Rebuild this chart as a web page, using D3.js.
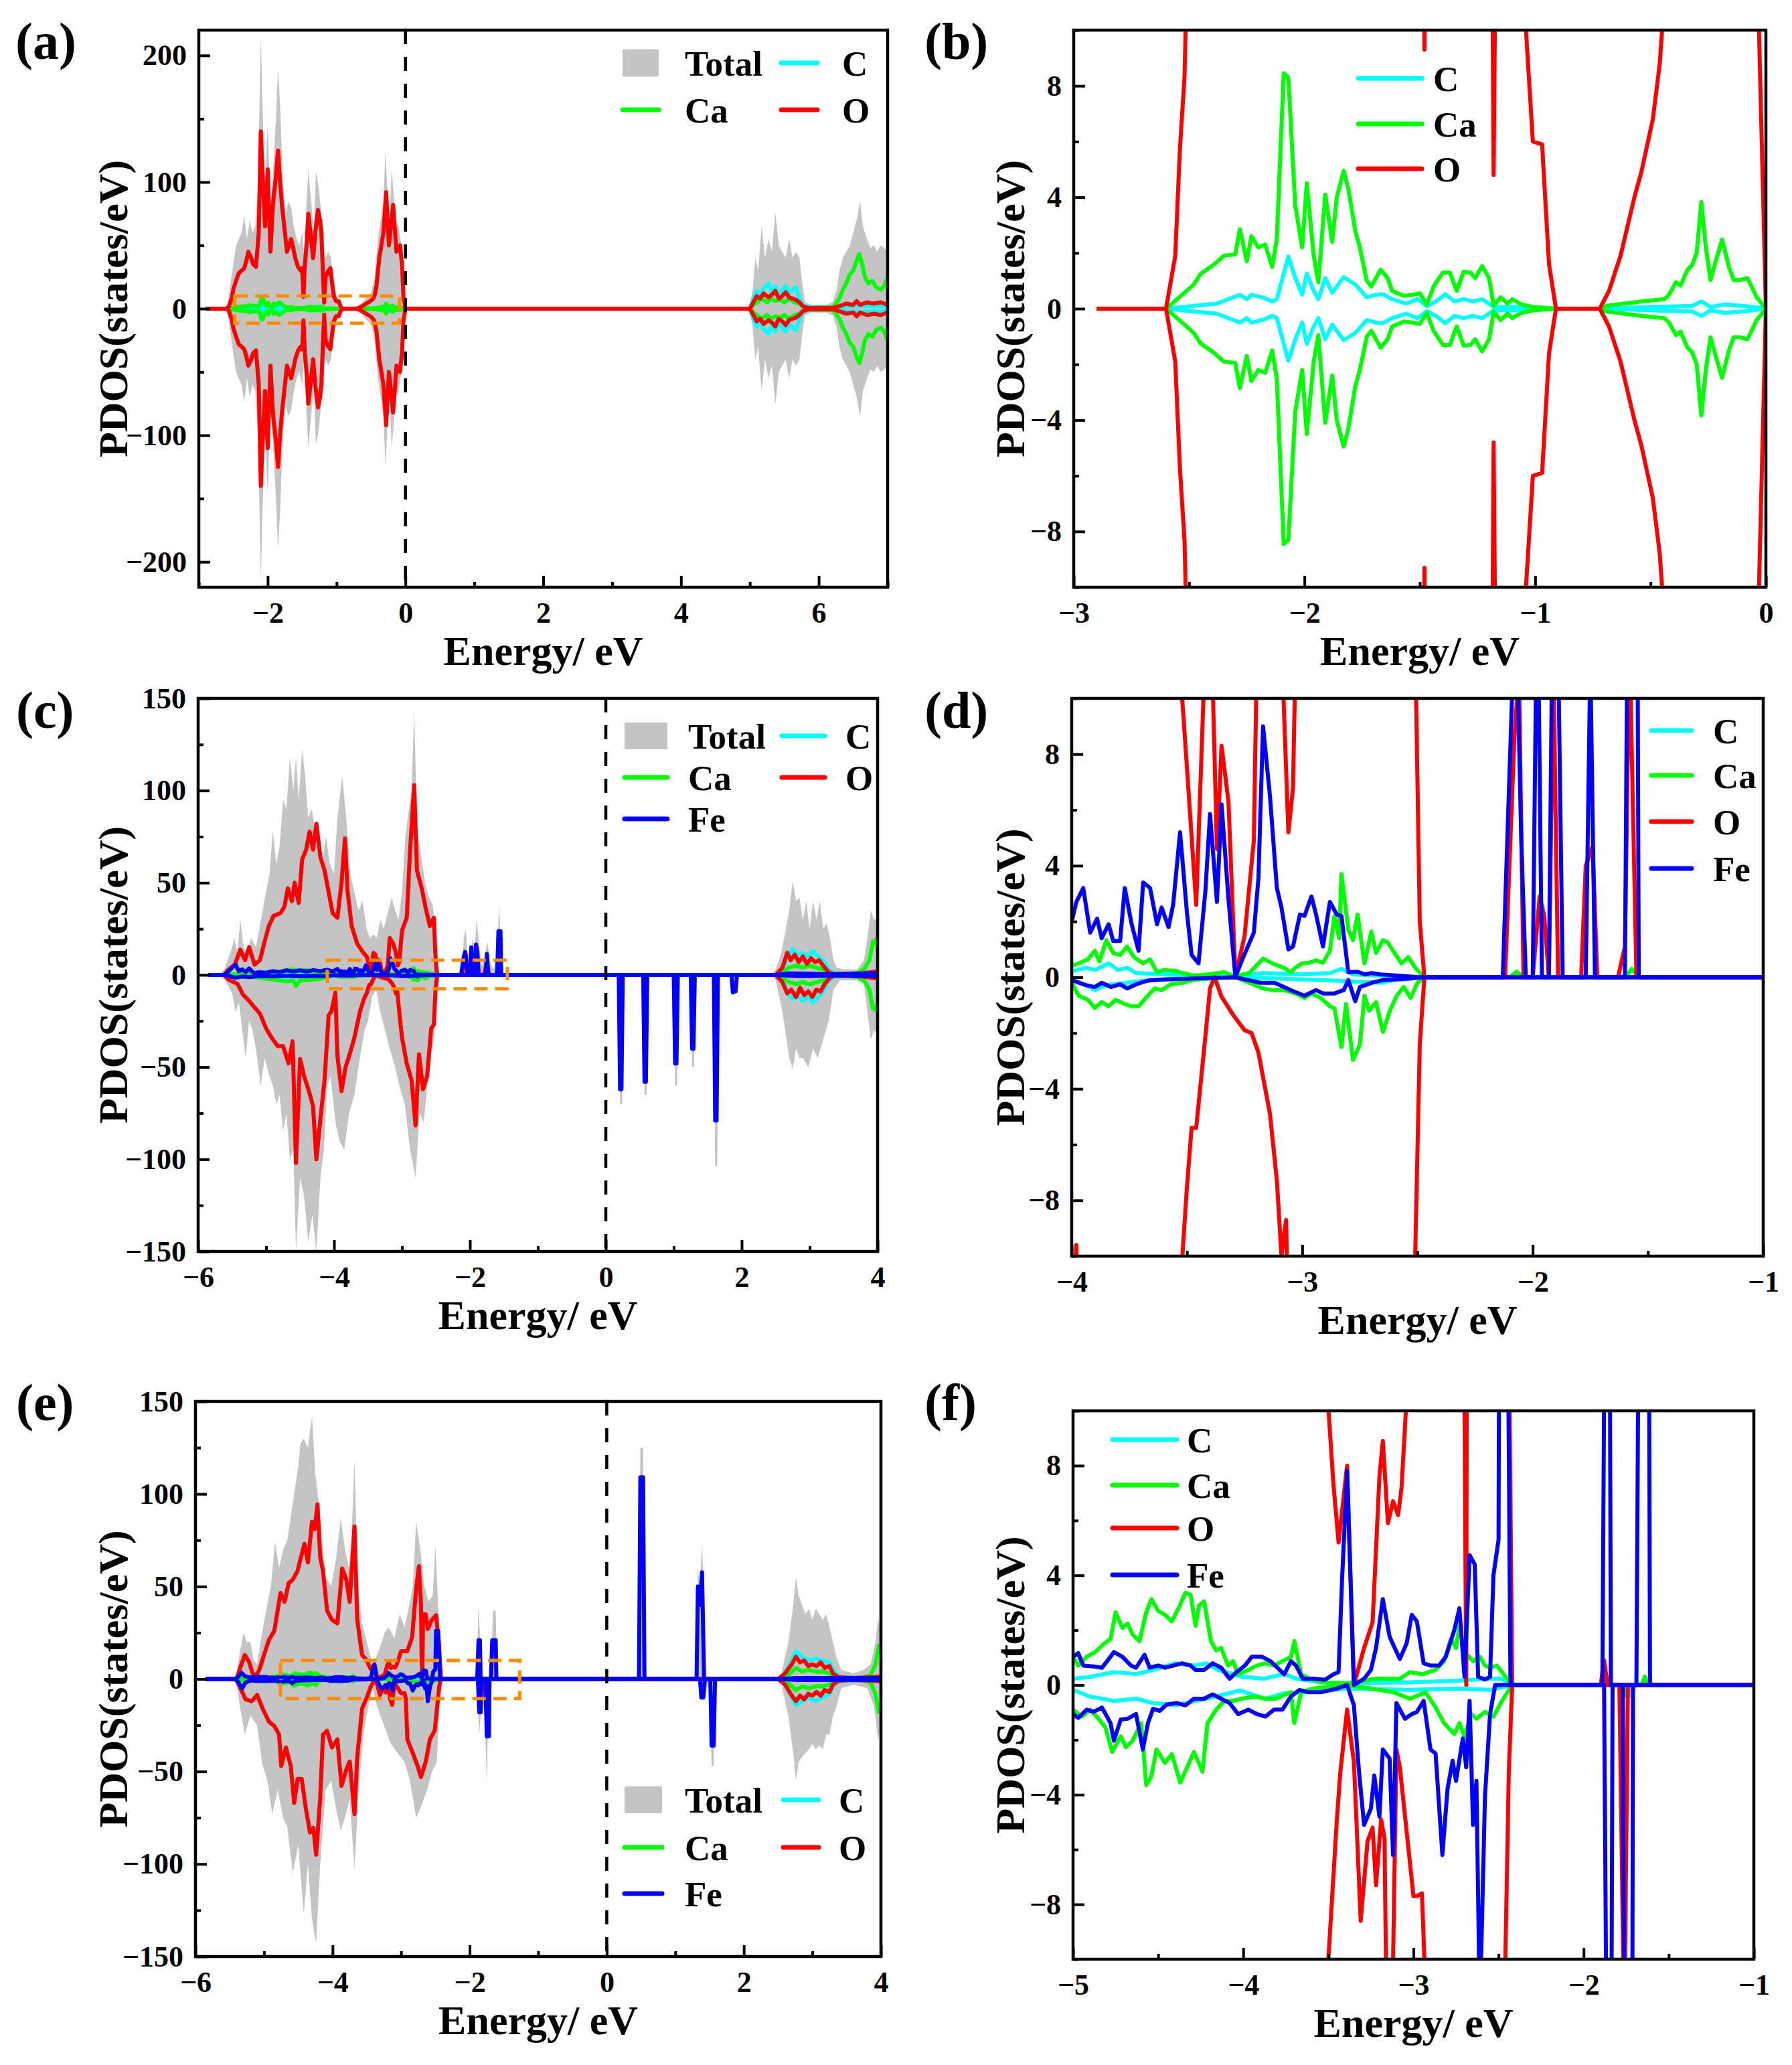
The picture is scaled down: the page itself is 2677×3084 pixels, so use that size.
<!DOCTYPE html>
<html>
<head>
<meta charset="utf-8">
<script src="https://cdn.jsdelivr.net/npm/d3@7"></script>
<style>
  body { margin: 0; background: #fff; }
  text { font-family: "Liberation Serif", "Times New Roman", serif; font-weight: bold; }
</style>
</head>
<body>
<div id="chart"></div>
<script>
// ---------- system 1 : CaCO3 (spin-symmetric, magnitudes) [energy, PDOS] ----------
const s1Total = [[-2.9,0],[-2.62,0],[-2.58,5],[-2.54,20],[-2.5,35],[-2.46,50],[-2.42,55],[-2.38,60],[-2.34,73],[-2.3,55],[-2.26,70],[-2.22,60],[-2.18,65],[-2.14,100],[-2.1,215],[-2.07,150],[-2.04,95],[-2.0,145],[-1.96,80],[-1.92,110],[-1.88,150],[-1.85,190],[-1.82,160],[-1.78,100],[-1.74,75],[-1.7,85],[-1.66,80],[-1.62,65],[-1.58,55],[-1.54,50],[-1.5,60],[-1.47,40],[-1.44,80],[-1.41,110],[-1.37,85],[-1.33,60],[-1.3,108],[-1.27,100],[-1.23,80],[-1.2,50],[-1.16,40],[-1.12,45],[-1.08,40],[-1.04,20],[-1.0,10],[-0.95,3],[-0.92,0],[-0.72,0],[-0.66,3],[-0.58,8],[-0.5,12],[-0.45,25],[-0.4,55],[-0.36,70],[-0.32,85],[-0.29,125],[-0.26,90],[-0.23,70],[-0.2,110],[-0.17,90],[-0.14,70],[-0.1,65],[-0.06,50],[-0.03,20],[0,0],
  [5.0,0],[5.04,15],[5.08,40],[5.12,30],[5.17,65],[5.22,40],[5.27,55],[5.32,45],[5.37,76],[5.42,50],[5.47,45],[5.52,40],[5.57,55],[5.62,40],[5.67,45],[5.72,40],[5.76,20],[5.8,5],[5.9,3],[6.1,3],[6.2,5],[6.26,15],[6.3,30],[6.35,40],[6.4,45],[6.45,50],[6.5,60],[6.55,70],[6.6,85],[6.64,65],[6.7,55],[6.75,48],[6.8,50],[6.85,45],[6.9,50],[6.95,48],[7.0,45]];
const s1O = [[-2.9,0],[-2.6,0],[-2.56,1.9],[-2.54,5.7],[-2.52,8.3],[-2.5,15],[-2.46,22],[-2.42,28],[-2.38,30],[-2.34,32],[-2.31,38],[-2.28,45],[-2.24,40],[-2.21,35],[-2.17,33],[-2.13,60],[-2.1,140],[-2.07,100],[-2.04,65],[-2.0,110],[-1.96,45],[-1.92,85],[-1.88,105],[-1.85,125],[-1.82,100],[-1.79,80],[-1.75,60],[-1.72,45],[-1.69,50],[-1.66,55],[-1.63,48],[-1.6,40],[-1.56,33],[-1.52,30],[-1.5,32],[-1.48,9.3],[-1.46,35],[-1.43,55],[-1.41,75],[-1.38,60],[-1.34,40],[-1.31,60],[-1.27,78],[-1.24,70],[-1.22,60],[-1.2,30],[-1.18,4.8],[-1.16,25],[-1.12,30],[-1.09,32],[-1.06,18],[-1.04,10],[-1.01,6],[-0.97,5.9],[-0.94,1.6],[-0.91,0],[-0.72,0],[-0.68,0.64],[-0.63,1.9],[-0.57,4],[-0.54,4.9],[-0.49,6.8],[-0.46,8.8],[-0.45,10],[-0.42,18],[-0.38,40],[-0.35,50],[-0.32,60],[-0.28,92],[-0.26,70],[-0.24,50],[-0.21,65],[-0.18,82],[-0.15,60],[-0.13,45],[-0.1,48],[-0.08,50],[-0.05,35],[-0.03,10],[0,0],
  [5.0,0],[5.05,5],[5.1,10],[5.15,8],[5.2,12],[5.27,9],[5.32,11],[5.37,14],[5.42,8],[5.47,10],[5.52,13],[5.57,9],[5.62,8],[5.67,7],[5.72,5],[5.77,2],[5.85,0.5],[6.2,0.5],[6.3,2],[6.4,4],[6.5,3],[6.55,6],[6.6,3],[6.7,5],[6.8,4],[6.9,5],[7.0,3]];
const s1Ca = [[-2.9,0],[-2.6,0],[-2.53,0.5],[-2.48,0.87],[-2.45,1.25],[-2.39,1.6],[-2.35,1.9],[-2.3,1.95],[-2.28,2.85],[-2.25,1.7],[-2.23,2.6],[-2.2,2.2],[-2.17,2.3],[-2.14,1.5],[-2.12,2.5],[-2.09,8.45],[-2.07,8.3],[-2.04,3.7],[-2.01,2.2],[-1.99,4.5],[-1.96,1.9],[-1.94,0.95],[-1.91,4.1],[-1.88,2.4],[-1.86,4.0],[-1.83,4.95],[-1.81,4.3],[-1.78,2.8],[-1.76,2.2],[-1.73,1.0],[-1.71,0.8],[-1.67,1.4],[-1.64,1.1],[-1.62,0.64],[-1.57,0.46],[-1.53,0.5],[-1.5,0.55],[-1.47,0.15],[-1.44,0.8],[-1.4,1.3],[-1.37,1.3],[-1.34,0.64],[-1.31,1.33],[-1.28,1.29],[-1.26,1.1],[-1.23,1.53],[-1.2,1.1],[-1.18,0.1],[-1.15,0.41],[-1.12,0.18],[-1.1,0.34],[-1.06,0.15],[-1.01,0.06],[-0.91,0],[-0.72,0],[-0.69,0.1],[-0.54,0.26],[-0.44,0.34],[-0.42,0.5],[-0.39,0.95],[-0.37,0.83],[-0.34,1.4],[-0.32,1.56],[-0.3,2.0],[-0.28,3.83],[-0.26,2.17],[-0.24,1.03],[-0.22,1.64],[-0.19,2.48],[-0.16,1.49],[-0.14,1.03],[-0.11,1.03],[-0.08,1.1],[-0.04,0.41],[0,0],
  [5.0,0],[5.05,3],[5.1,5],[5.17,8],[5.25,5],[5.3,8],[5.37,6],[5.45,7],[5.5,5],[5.57,8],[5.65,5],[5.72,4],[5.78,1],[5.85,0.5],[6.2,1],[6.25,4],[6.3,8],[6.35,15],[6.4,20],[6.45,27],[6.5,30],[6.55,38],[6.59,43],[6.63,35],[6.67,25],[6.72,20],[6.78,22],[6.83,17],[6.9,15],[6.95,18],[7.0,25]];
const s1C = [[-2.9,0],[-2.6,0],[-2.48,0.1],[-2.38,0.18],[-2.28,0.5],[-2.25,0.34],[-2.23,0.5],[-2.18,0.4],[-2.14,0.26],[-2.12,0.34],[-2.07,1.87],[-2.04,1.1],[-2.01,0.5],[-1.99,1.26],[-1.96,0.64],[-1.94,0.34],[-1.91,1.1],[-1.88,0.57],[-1.86,0.8],[-1.83,1.13],[-1.78,0.87],[-1.73,0.41],[-1.69,0.5],[-1.66,0.52],[-1.62,0.34],[-1.56,0.18],[-1.51,0.34],[-1.47,0.09],[-1.43,0.26],[-1.39,0.52],[-1.35,0.26],[-1.31,0.34],[-1.27,0.26],[-1.23,0.34],[-1.18,0.06],[-1.09,0.06],[-0.91,0],[-0.72,0],[-0.32,0.1],[-0.28,0.26],[-0.24,0.06],[-0.18,0.15],[-0.09,0.09],[0,0],
  [5.0,0],[5.05,8],[5.1,14],[5.15,10],[5.2,16],[5.27,20],[5.32,12],[5.37,18],[5.42,10],[5.47,15],[5.52,18],[5.57,12],[5.62,15],[5.67,17],[5.72,8],[5.77,3],[5.85,1],[6.2,1],[6.4,2],[6.6,2.5],[6.8,2],[7.0,2]];

// ---------- system 2 : Fe-doped (c, d) ----------
const s2TotalUp = [[-5.85,0],[-5.68,0],[-5.6,4],[-5.55,10],[-5.5,15],[-5.47,20],[-5.42,12],[-5.38,30],[-5.33,15],[-5.28,12],[-5.22,20],[-5.15,15],[-5.1,25],[-5.05,35],[-5.0,45],[-4.95,55],[-4.9,78],[-4.85,60],[-4.8,70],[-4.75,95],[-4.7,90],[-4.65,118],[-4.6,100],[-4.56,118],[-4.52,95],[-4.47,122],[-4.43,110],[-4.38,85],[-4.33,90],[-4.28,80],[-4.24,70],[-4.18,60],[-4.12,75],[-4.06,60],[-4.0,55],[-3.95,85],[-3.88,108],[-3.82,85],[-3.76,55],[-3.7,45],[-3.64,35],[-3.58,40],[-3.52,25],[-3.47,20],[-3.42,22],[-3.37,20],[-3.32,30],[-3.27,25],[-3.2,35],[-3.15,42],[-3.1,35],[-3.05,30],[-3.0,45],[-2.95,75],[-2.9,90],[-2.86,100],[-2.82,143],[-2.78,80],[-2.74,70],[-2.7,60],[-2.65,48],[-2.6,42],[-2.55,38],[-2.52,30],[-2.48,5],[-2.45,0],[-2.12,0],[-2.09,20],[-2.06,25],[-2.03,5],[-1.99,10],[-1.96,20],[-1.93,15],[-1.9,30],[-1.87,18],[-1.83,5],[-1.78,10],[-1.74,18],[-1.71,8],[-1.66,3],[-1.6,8],[-1.57,40],[-1.54,5],[-1.5,0],
  [2.45,0],[2.5,3],[2.55,8],[2.6,15],[2.65,25],[2.7,35],[2.75,51],[2.8,40],[2.85,42],[2.9,30],[2.95,40],[3.0,25],[3.05,40],[3.1,30],[3.15,40],[3.2,25],[3.25,28],[3.3,20],[3.35,8],[3.4,4],[3.5,3],[3.7,3],[3.8,8],[3.85,20],[3.9,35],[3.95,30],[4.0,30]];
const s2TotalDn = [[-5.85,0],[-5.68,0],[-5.6,-3],[-5.5,-10],[-5.45,-20],[-5.4,-15],[-5.35,-30],[-5.3,-45],[-5.25,-25],[-5.2,-30],[-5.15,-40],[-5.08,-60],[-5.02,-45],[-4.95,-55],[-4.9,-60],[-4.85,-70],[-4.8,-65],[-4.75,-85],[-4.7,-75],[-4.65,-100],[-4.6,-95],[-4.56,-150],[-4.5,-110],[-4.44,-120],[-4.38,-145],[-4.32,-130],[-4.26,-150],[-4.2,-110],[-4.15,-95],[-4.1,-60],[-4.05,-55],[-3.98,-80],[-3.92,-90],[-3.85,-95],[-3.78,-75],[-3.7,-65],[-3.62,-45],[-3.55,-30],[-3.5,-25],[-3.44,-12],[-3.38,-8],[-3.32,-20],[-3.25,-30],[-3.18,-40],[-3.1,-50],[-3.04,-60],[-2.96,-70],[-2.88,-95],[-2.8,-110],[-2.74,-75],[-2.68,-80],[-2.6,-50],[-2.53,-35],[-2.48,-5],[-2.45,0],
  [0.19,0],[0.21,-70],[0.24,-70],[0.26,0],[0.55,0],[0.57,-65],[0.6,-65],[0.62,0],[1.0,0],[1.02,-60],[1.05,-60],[1.07,0],[1.25,0],[1.27,-50],[1.3,-50],[1.32,0],[1.59,0],[1.61,-104],[1.64,-104],[1.66,0],[1.84,0],[1.87,-10],[1.92,-10],[1.95,0],
  [2.45,0],[2.5,-3],[2.6,-20],[2.7,-45],[2.75,-51],[2.8,-40],[2.85,-45],[2.9,-45],[2.98,-50],[3.05,-40],[3.12,-45],[3.2,-35],[3.28,-25],[3.35,-8],[3.45,-3],[3.7,-3],[3.8,-5],[3.85,-20],[3.9,-35],[3.95,-30],[4.0,-32]];
const s2OUp = [[-5.85,0],[-5.62,0],[-5.55,3],[-5.46,5.6],[-5.38,13.7],[-5.31,8],[-5.25,15],[-5.17,5.6],[-5.09,8],[-5.03,17],[-4.96,26.5],[-4.89,32],[-4.79,33.5],[-4.73,37],[-4.68,47],[-4.62,40],[-4.58,50],[-4.52,39],[-4.47,62.5],[-4.41,68],[-4.36,77.7],[-4.31,68],[-4.26,82],[-4.2,63.7],[-4.14,56.7],[-4.08,45],[-4.02,33.5],[-3.95,31],[-3.89,50],[-3.84,74],[-3.8,45],[-3.74,26.5],[-3.66,17],[-3.58,12.6],[-3.52,9.9],[-3.5,7.5],[-3.46,2.6],[-3.42,12],[-3.39,11],[-3.37,4.6],[-3.35,8.3],[-3.32,6.3],[-3.29,0],[-3.25,1.5],[-3.21,4.9],[-3.18,20],[-3.13,17],[-3.09,12],[-3.06,5.2],[-3.04,6.8],[-3.0,24],[-2.93,31],[-2.88,68],[-2.82,103],[-2.78,56.7],[-2.71,47],[-2.65,36],[-2.59,26.5],[-2.53,31],[-2.51,12],[-2.49,2],[-2.47,0],
  [-2.12,0],[-2.08,8.5],[-2.06,11],[-2.04,0],[-2.0,0],[-1.97,2.9],[-1.95,2.2],[-1.93,0],[-1.91,11],[-1.89,0],[-1.79,0],[-1.77,4.0],[-1.74,4.7],[-1.72,0],[-1.63,0],[-1.6,1.1],[-1.58,12],[-1.55,0],
  [2.5,0],[2.6,4],[2.67,12],[2.72,8],[2.78,11],[2.84,7],[2.9,10],[2.96,6],[3.02,9],[3.08,7],[3.14,8],[3.2,5],[3.28,1.5],[3.35,0.5],[3.6,0.5],[3.8,1],[3.9,1.5],[4.0,2]];
const s2ODn = [[-5.85,0],[-5.62,0],[-5.55,-2.6],[-5.42,-4.9],[-5.34,-10.7],[-5.25,-14],[-5.17,-17.7],[-5.09,-21],[-5.0,-29],[-4.92,-34],[-4.83,-38.6],[-4.75,-38.6],[-4.67,-48],[-4.61,-36],[-4.56,-102],[-4.5,-45.6],[-4.44,-55],[-4.37,-63],[-4.31,-71],[-4.26,-100],[-4.2,-78],[-4.14,-57],[-4.08,-22],[-4.04,-20],[-3.98,-9.6],[-3.95,-44],[-3.89,-63],[-3.83,-50],[-3.77,-43],[-3.7,-34],[-3.62,-20],[-3.56,-13],[-3.52,-10],[-3.5,-7.5],[-3.48,-5.4],[-3.46,-5.4],[-3.42,-2.1],[-3.4,-0.4],[-3.38,0],[-3.35,-0.7],[-3.3,-1.35],[-3.25,-1.9],[-3.22,-2.0],[-3.19,-2.7],[-3.14,-4.9],[-3.11,-7.3],[-3.09,-10],[-3.07,-8.7],[-3.04,-20],[-3.0,-34],[-2.93,-48],[-2.86,-57],[-2.8,-81.6],[-2.75,-43],[-2.69,-62],[-2.63,-55],[-2.57,-29],[-2.53,-27],[-2.51,-10],[-2.49,-2.4],[-2.47,0],
  [2.5,0],[2.6,-4],[2.67,-10],[2.73,-8],[2.8,-12],[2.86,-7],[2.92,-11],[2.98,-9],[3.04,-12],[3.1,-8],[3.16,-9],[3.22,-5],[3.3,-1.5],[3.36,-0.5],[3.6,-0.5],[3.8,-1],[3.9,-1.5],[4.0,-2]];
const s2CaUp = [[-5.85,0],[-5.62,0],[-5.5,0.3],[-5.3,0.6],[-5.1,0.8],[-4.95,1.2],[-4.8,1.8],[-4.7,2.5],[-4.6,3],[-4.5,2.2],[-4.4,2.8],[-4.3,1.8],[-4.2,1.5],[-4.1,0.8],[-4.0,0.41],[-3.97,0.5],[-3.93,0.64],[-3.9,0.95],[-3.88,0.57],[-3.85,1.33],[-3.82,0.87],[-3.79,0.8],[-3.76,1.1],[-3.73,0.72],[-3.69,0.5],[-3.66,0.64],[-3.63,0.18],[-3.6,0.26],[-3.55,0.23],[-3.52,0.15],[-3.47,0.06],[-3.41,0.1],[-3.34,0.18],[-3.29,0.03],[-3.23,0.15],[-3.17,0.67],[-3.13,0.5],[-3.08,0.34],[-3.05,0.18],[-3.03,0.34],[-3.0,0.5],[-2.97,0.52],[-2.94,0.61],[-2.91,0.52],[-2.88,0.95],[-2.86,2.2],[-2.84,1.4],[-2.83,3.7],[-2.8,1.7],[-2.78,1.33],[-2.76,2.25],[-2.73,0.5],[-2.7,1.64],[-2.68,0.87],[-2.65,1.33],[-2.63,1.26],[-2.6,0.87],[-2.57,0.5],[-2.54,0.72],[-2.51,0.34],[-2.47,0],[-2.1,0],[-2.07,0.2],[-2.04,0],[-1.6,0],[-1.57,0.3],[-1.54,0],
  [2.5,0],[2.6,1.5],[2.7,4],[2.8,5],[2.9,4],[3.0,5],[3.1,4],[3.2,3],[3.3,1],[3.4,0.5],[3.7,1],[3.8,3],[3.88,8],[3.93,18],[3.97,19],[4.0,15]];
const s2CaDn = [[-5.85,0],[-5.62,0],[-5.5,-0.5],[-5.3,-1],[-5.1,-1.5],[-4.95,-2.2],[-4.8,-3],[-4.7,-3.5],[-4.6,-3],[-4.56,-6],[-4.5,-3],[-4.4,-2.8],[-4.3,-2.5],[-4.2,-2],[-4.1,-1],[-4.0,-0.2],[-3.97,-0.66],[-3.93,-0.81],[-3.9,-1.1],[-3.87,-0.89],[-3.84,-1.04],[-3.81,-0.81],[-3.77,-0.96],[-3.74,-1.04],[-3.71,-1.04],[-3.67,-0.66],[-3.64,-0.4],[-3.61,-0.46],[-3.57,-0.25],[-3.52,-0.2],[-3.47,-0.09],[-3.37,-0.03],[-3.29,0],[-3.23,-0.2],[-3.17,-0.4],[-3.13,-0.46],[-3.08,-0.46],[-3.03,-0.58],[-2.99,-0.74],[-2.96,-0.58],[-2.92,-0.74],[-2.88,-1.04],[-2.86,-1.12],[-2.83,-2.5],[-2.81,-0.96],[-2.78,-2.96],[-2.75,-2.42],[-2.73,-0.66],[-2.71,-1.2],[-2.68,-0.89],[-2.65,-1.96],[-2.62,-1.2],[-2.59,-0.66],[-2.56,-0.35],[-2.53,-0.74],[-2.5,-0.2],[-2.47,0],
  [2.5,0],[2.6,-1.5],[2.7,-4],[2.8,-5],[2.9,-4],[3.0,-5],[3.1,-4],[3.2,-3],[3.3,-1],[3.4,-0.5],[3.7,-1],[3.8,-3],[3.88,-8],[3.93,-18],[3.97,-19],[4.0,-15]];
const s2CUp = [[-5.85,0],[-5.62,0],[-5.5,0.2],[-5.2,0.4],[-4.9,0.6],[-4.6,0.9],[-4.3,0.6],[-4.1,0.4],[-4.0,0.21],[-3.94,0.34],[-3.9,0.26],[-3.84,0.5],[-3.8,0.26],[-3.76,0.34],[-3.72,0.15],[-3.6,0.1],[-3.47,0.06],[-3.29,0],[-3.18,0.15],[-3.0,0.1],[-2.88,0.15],[-2.83,0.3],[-2.78,0.1],[-2.66,0.06],[-2.47,0],
  [2.5,0],[2.6,3],[2.68,10],[2.75,14],[2.82,11],[2.9,12],[2.98,10],[3.05,13],[3.12,10],[3.2,8],[3.28,3],[3.35,1],[3.6,0.5],[4.0,1]];
const s2CDn = [[-5.85,0],[-5.62,0],[-5.5,-0.3],[-5.2,-0.5],[-4.9,-0.7],[-4.6,-1],[-4.3,-0.7],[-4.1,-0.4],[-4.0,-0.1],[-3.94,-0.28],[-3.9,-0.46],[-3.85,-0.28],[-3.76,-0.2],[-3.67,-0.1],[-3.29,0],[-3.1,-0.05],[-2.86,-0.12],[-2.78,-0.15],[-2.66,-0.2],[-2.6,-0.1],[-2.47,0],
  [2.5,0],[2.6,-3],[2.68,-10],[2.75,-13],[2.82,-11],[2.9,-14],[2.98,-12],[3.05,-15],[3.12,-12],[3.2,-9],[3.28,-3],[3.35,-1],[3.6,-0.5],[4.0,-1]];
const s2FeUp = [[-5.85,0],[-5.62,0],[-5.55,2],[-5.5,4],[-5.45,5.5],[-5.4,2],[-5.35,3],[-5.3,1.5],[-5.25,3.5],[-5.18,1],[-5.1,1.5],[-5.0,1.2],[-4.9,2],[-4.8,1.5],[-4.7,2.5],[-4.6,1.8],[-4.5,2.5],[-4.4,1.8],[-4.3,2.6],[-4.2,2],[-4.1,2.8],[-4.05,2.2],[-4.0,2.0],[-3.98,2.7],[-3.95,3.2],[-3.92,1.6],[-3.89,2.1],[-3.87,1.4],[-3.84,1.9],[-3.82,1.3],[-3.79,1.3],[-3.77,3.2],[-3.74,1.9],[-3.71,0.95],[-3.69,3.4],[-3.66,3.2],[-3.63,1.9],[-3.61,2.5],[-3.58,1.8],[-3.56,2.6],[-3.53,5.2],[-3.5,2.3],[-3.48,0.8],[-3.45,0.5],[-3.42,3.1],[-3.4,5.85],[-3.37,2.7],[-3.35,6.2],[-3.32,2.8],[-3.29,0],[-3.26,0.64],[-3.21,1.6],[-3.19,3.55],[-3.17,9.0],[-3.14,6.5],[-3.11,3.2],[-3.09,2.5],[-3.06,1.0],[-3.04,1.1],[-3.01,2.25],[-2.99,2.2],[-2.96,2.9],[-2.94,2.25],[-2.91,1.1],[-2.88,2.7],[-2.85,2.25],[-2.83,2.2],[-2.8,0.18],[-2.76,0.2],[-2.73,0.1],[-2.7,0.15],[-2.66,0.1],[-2.59,0.06],[-2.49,0],
  [-2.13,0],[-2.09,10],[-2.07,12.5],[-2.05,5],[-2.03,0],[-2.0,0],[-1.98,15],[-1.96,0],[-1.93,0],[-1.91,16.5],[-1.89,12],[-1.87,0],[-1.77,0],[-1.75,11.4],[-1.73,0],[-1.6,0],[-1.58,23.7],[-1.55,23.7],[-1.54,0],
  [2.5,0],[2.7,0.8],[3.0,0.6],[3.3,0.3],[3.6,0.5],[4.0,1]];
const s2FeDn = [[-5.85,0],[-5.62,0],[-5.55,-0.5],[-5.45,-1.5],[-5.35,-0.8],[-5.25,-1.2],[-5.1,-0.6],[-4.9,-0.8],[-4.7,-0.5],[-4.5,-0.7],[-4.3,-0.5],[-4.1,-0.6],[-4.0,-0.1],[-3.94,-0.28],[-3.9,-0.35],[-3.87,-0.2],[-3.83,-0.35],[-3.79,-0.25],[-3.76,-0.4],[-3.72,-0.25],[-3.67,-0.12],[-3.6,-0.08],[-3.29,0],[-3.18,-0.2],[-3.12,-0.2],[-3.08,-0.35],[-3.04,-0.5],[-2.99,-0.66],[-2.94,-0.46],[-2.91,-0.58],[-2.86,-0.58],[-2.82,-0.46],[-2.8,-0.1],[-2.77,-0.86],[-2.75,-0.35],[-2.7,-0.2],[-2.65,-0.1],[-2.54,-0.05],[-2.48,0],
  [0.19,0],[0.21,-62],[0.23,-62],[0.25,0],[0.55,0],[0.57,-58],[0.59,-58],[0.61,0],[1.0,0],[1.02,-48],[1.04,-48],[1.06,0],[1.25,0],[1.27,-40],[1.29,-40],[1.31,0],[1.59,0],[1.61,-79],[1.63,-79],[1.65,0],[1.85,0],[1.87,-9.5],[1.89,-5],[1.91,-9],[1.93,0],
  [2.5,0],[2.8,-0.6],[3.1,-0.5],[3.4,-0.3],[4.0,-0.8]];

// ---------- system 3 : Fe-doped (e, f) ----------
const s3TotalUp = [[-5.85,0],[-5.45,0],[-5.4,3],[-5.35,15],[-5.3,25],[-5.25,20],[-5.2,20],[-5.15,10],[-5.1,8],[-5.05,20],[-4.98,35],[-4.9,50],[-4.84,74],[-4.78,60],[-4.72,70],[-4.66,75],[-4.62,85],[-4.56,100],[-4.5,115],[-4.47,127],[-4.42,130],[-4.36,125],[-4.3,142],[-4.25,110],[-4.2,95],[-4.15,75],[-4.1,55],[-4.02,50],[-3.95,65],[-3.88,87],[-3.82,70],[-3.76,60],[-3.72,80],[-3.68,117],[-3.63,50],[-3.57,30],[-3.5,20],[-3.42,8],[-3.36,12],[-3.3,18],[-3.24,25],[-3.18,28],[-3.1,22],[-3.02,35],[-2.95,28],[-2.88,40],[-2.83,50],[-2.78,85],[-2.72,70],[-2.66,50],[-2.6,42],[-2.54,45],[-2.5,72],[-2.46,40],[-2.42,0],
  [-1.9,0],[-1.87,40],[-1.84,15],[-1.81,0],[-1.69,0],[-1.66,37],[-1.62,37],[-1.6,0],[0.47,0],[0.49,125],[0.53,125],[0.55,0],[1.31,0],[1.33,60],[1.36,50],[1.39,74],[1.42,40],[1.44,0],
  [2.5,0],[2.55,3],[2.65,20],[2.72,40],[2.76,55],[2.8,45],[2.85,40],[2.9,35],[2.95,38],[3.0,32],[3.05,38],[3.1,35],[3.15,32],[3.2,35],[3.25,28],[3.3,20],[3.35,12],[3.42,5],[3.6,3],[3.75,5],[3.85,8],[3.92,20],[3.96,33],[4.0,25]];
const s3TotalDn = [[-5.85,0],[-5.45,0],[-5.4,-3],[-5.35,-15],[-5.28,-30],[-5.2,-20],[-5.1,-25],[-5.03,-45],[-4.95,-55],[-4.88,-73],[-4.8,-60],[-4.72,-75],[-4.66,-80],[-4.58,-105],[-4.5,-90],[-4.42,-127],[-4.36,-100],[-4.3,-130],[-4.24,-143],[-4.18,-100],[-4.1,-60],[-4.02,-55],[-3.95,-70],[-3.88,-82],[-3.82,-75],[-3.75,-65],[-3.68,-103],[-3.62,-60],[-3.55,-30],[-3.48,-15],[-3.42,-5],[-3.35,-15],[-3.25,-25],[-3.15,-35],[-3.05,-40],[-2.95,-45],[-2.87,-55],[-2.78,-75],[-2.72,-70],[-2.62,-60],[-2.55,-50],[-2.48,-45],[-2.42,0],
  [-1.9,0],[-1.86,-30],[-1.82,-10],[-1.78,-20],[-1.75,-57],[-1.72,0],[1.36,0],[1.38,-10],[1.41,-10],[1.5,0],[1.53,-47],[1.56,-47],[1.58,0],
  [2.5,0],[2.55,-3],[2.65,-20],[2.72,-40],[2.76,-55],[2.8,-45],[2.85,-42],[2.9,-40],[2.95,-38],[3.0,-35],[3.05,-38],[3.1,-36],[3.15,-38],[3.2,-30],[3.25,-30],[3.3,-20],[3.35,-15],[3.42,-5],[3.6,-3],[3.8,-5],[3.9,-15],[3.96,-33],[4.0,-25]];
const s3OUp = [[-5.85,0],[-5.42,0],[-5.39,1],[-5.35,5.8],[-5.28,13],[-5.22,9.4],[-5.17,3.4],[-5.12,1],[-5.06,5.8],[-5.0,13],[-4.93,21],[-4.85,26],[-4.76,46.5],[-4.7,41.7],[-4.64,51.8],[-4.58,53.7],[-4.51,58.5],[-4.47,64.5],[-4.41,73],[-4.36,63],[-4.3,85],[-4.26,81],[-4.22,94.4],[-4.18,65.7],[-4.14,58.5],[-4.08,37],[-4.01,32],[-3.93,30],[-3.86,59.7],[-3.8,53.7],[-3.75,41.7],[-3.68,82.4],[-3.64,32],[-3.57,13],[-3.5,10.1],[-3.47,7.3],[-3.44,5.2],[-3.39,8],[-3.35,0],[-3.29,1.35],[-3.24,2.3],[-3.2,7.6],[-3.18,8.9],[-3.15,5.9],[-3.12,6.7],[-3.09,6.2],[-3.07,7.2],[-3.04,10.5],[-3.0,15],[-2.91,15],[-2.84,22.5],[-2.78,49],[-2.74,61],[-2.71,40],[-2.7,10],[-2.69,0],[-2.68,35],[-2.64,35],[-2.61,27],[-2.55,32],[-2.49,34.5],[-2.45,20],[-2.42,0],
  [-1.9,0],[-1.88,0.9],[-1.86,0],
  [2.5,0],[2.6,3],[2.7,8],[2.76,12],[2.82,9],[2.88,10],[2.94,7],[3.0,8],[3.06,7],[3.12,9],[3.18,6],[3.25,7],[3.3,3],[3.38,1],[3.6,0.5],[3.9,1],[4.0,1.5]];
const s3ODn = [[-5.85,0],[-5.42,0],[-5.39,-1.4],[-5.33,-6],[-5.27,-11],[-5.18,-12],[-5.1,-8.6],[-5.02,-16],[-4.93,-23],[-4.85,-25.4],[-4.78,-30],[-4.75,-47],[-4.68,-37],[-4.61,-47],[-4.56,-67],[-4.51,-54],[-4.45,-54],[-4.39,-70],[-4.33,-83],[-4.28,-80.5],[-4.24,-95],[-4.18,-64],[-4.14,-30],[-4.08,-28],[-4.01,-37],[-3.93,-32.6],[-3.87,-57.8],[-3.8,-49],[-3.75,-44.6],[-3.68,-73],[-3.64,-42],[-3.57,-16],[-3.5,-10],[-3.45,-4.9],[-3.43,-3.2],[-3.39,-0.9],[-3.35,-2.8],[-3.31,-8.6],[-3.27,-5.7],[-3.24,-5.2],[-3.22,-7.3],[-3.19,-4.9],[-3.17,-5.6],[-3.16,-11],[-3.13,-14],[-3.1,-2.35],[-3.08,-3],[-3.0,-7.7],[-2.98,-7.7],[-2.95,-7.6],[-2.93,-11],[-2.91,-32.6],[-2.83,-40],[-2.76,-47],[-2.71,-53],[-2.64,-44.6],[-2.58,-32.6],[-2.51,-27.8],[-2.46,-10],[-2.44,-3.2],[-2.42,0],
  [-1.79,0],[-1.77,-9],[-1.76,-12],[-1.74,0],
  [2.5,0],[2.6,-3],[2.7,-9],[2.76,-12],[2.82,-9],[2.88,-11],[2.94,-8],[3.0,-9],[3.06,-7],[3.12,-9],[3.18,-6],[3.25,-7],[3.3,-3],[3.38,-1],[3.6,-0.5],[3.9,-1],[4.0,-1.5]];
const s3CaUp = [[-5.85,0],[-5.42,0],[-5.35,0.5],[-5.25,1],[-5.15,0.6],[-5.05,1],[-5.0,1.03],[-4.97,0.71],[-4.92,1.03],[-4.87,1.2],[-4.82,1.5],[-4.78,1.68],[-4.75,2.65],[-4.71,2.08],[-4.68,2.24],[-4.65,1.84],[-4.61,1.6],[-4.57,2.65],[-4.54,3.13],[-4.5,2.7],[-4.46,2.56],[-4.42,2.32],[-4.38,2.8],[-4.34,3.37],[-4.31,3.29],[-4.28,2.16],[-4.26,2.9],[-4.23,3.05],[-4.19,1.6],[-4.16,1.27],[-4.13,1.35],[-4.09,0.71],[-4.06,0.87],[-4.03,0.39],[-3.97,0.55],[-3.92,0.71],[-3.87,0.79],[-3.82,0.71],[-3.77,0.87],[-3.72,1.03],[-3.7,1.6],[-3.66,0.39],[-3.61,0.23],[-3.54,0.1],[-3.39,0.06],[-3.22,0.23],[-3.15,0.23],[-3.08,0.23],[-3.02,0.47],[-2.95,0.39],[-2.87,0.55],[-2.82,0.87],[-2.78,1.68],[-2.75,1.35],[-2.73,2.16],[-2.7,1.2],[-2.65,0.87],[-2.61,1.03],[-2.58,0.71],[-2.55,0.63],[-2.51,0.71],[-2.48,0.47],[-2.43,0.06],[-2.42,0],
  [-1.88,0],[-1.86,0.3],[-1.84,0],[-1.66,0],[-1.64,0.3],[-1.62,0],
  [2.5,0],[2.6,1],[2.7,4],[2.76,6],[2.85,4],[2.95,5],[3.05,4],[3.15,4],[3.25,3],[3.32,1],[3.4,0.5],[3.7,0.5],[3.85,2],[3.92,8],[3.97,18],[4.0,15]];
const s3CaDn = [[-5.85,0],[-5.42,0],[-5.35,-0.5],[-5.25,-1],[-5.15,-0.8],[-5.05,-1],[-5.0,-0.9],[-4.95,-1.15],[-4.9,-0.9],[-4.85,-1.23],[-4.81,-1.55],[-4.77,-2.44],[-4.72,-1.87],[-4.69,-2.27],[-4.65,-2.03],[-4.6,-1.39],[-4.57,-3.65],[-4.54,-3.32],[-4.51,-2.35],[-4.46,-2.84],[-4.42,-2.52],[-4.37,-3.56],[-4.33,-3.0],[-4.29,-2.44],[-4.24,-3.16],[-4.21,-1.39],[-4.16,-0.9],[-4.11,-0.58],[-4.06,-0.58],[-4.01,-0.5],[-3.94,-0.42],[-3.87,-0.5],[-3.81,-0.5],[-3.72,-0.26],[-3.7,-1.39],[-3.66,-0.26],[-3.59,-0.13],[-3.39,0],[-3.25,-0.13],[-3.12,-0.26],[-3.02,-0.5],[-2.93,-0.26],[-2.87,-0.82],[-2.82,-1.39],[-2.76,-1.79],[-2.73,-1.39],[-2.7,-1.87],[-2.66,-1.06],[-2.63,-1.23],[-2.58,-0.98],[-2.53,-1.15],[-2.48,-0.58],[-2.42,0],
  [-1.78,0],[-1.76,-0.4],[-1.74,0],
  [2.5,0],[2.6,-1],[2.7,-4],[2.76,-6],[2.85,-4],[2.95,-5],[3.05,-4],[3.15,-4],[3.25,-3],[3.32,-1],[3.4,-0.5],[3.7,-0.5],[3.85,-2],[3.92,-8],[3.97,-18],[4.0,-15]];
const s3CUp = [[-5.85,0],[-5.42,0],[-5.3,0.2],[-5.1,0.2],[-5.0,0.23],[-4.9,0.3],[-4.76,0.47],[-4.63,0.4],[-4.53,0.55],[-4.4,0.79],[-4.29,0.71],[-4.22,0.79],[-4.15,0.55],[-4.01,0.3],[-3.88,0.23],[-3.76,0.4],[-3.69,0.23],[-3.55,0.1],[-3.35,0.06],[-3.02,0.1],[-2.75,0.15],[-2.55,0.23],[-2.48,0.23],[-2.42,0],
  [-1.66,0],[-1.64,0.3],[-1.62,0],
  [2.5,0],[2.6,3],[2.7,10],[2.76,15],[2.85,12],[2.95,10],[3.05,11],[3.15,10],[3.25,9],[3.32,4],[3.4,1],[3.7,0.5],[4.0,1]];
const s3CDn = [[-5.85,0],[-5.42,0],[-5.3,-0.3],[-5.1,-0.3],[-5.0,-0.18],[-4.9,-0.42],[-4.76,-0.58],[-4.63,-0.5],[-4.53,-0.66],[-4.4,-0.74],[-4.29,-0.6],[-4.15,-0.4],[-4.02,-0.2],[-3.87,-0.5],[-3.76,-0.3],[-3.62,-0.26],[-3.39,-0.13],[-3.02,-0.18],[-2.75,-0.13],[-2.55,-0.18],[-2.42,0],
  [-1.74,0],[-1.72,-0.4],[-1.7,0],
  [2.5,0],[2.6,-3],[2.7,-10],[2.76,-14],[2.85,-12],[2.95,-10],[3.05,-12],[3.15,-10],[3.25,-8],[3.32,-3],[3.4,-1],[3.7,-0.5],[4.0,-1]];
const s3FeUp = [[-5.85,0],[-5.42,0],[-5.38,1],[-5.33,3.4],[-5.28,1.5],[-5.2,0.8],[-5.1,1.2],[-5.0,1.03],[-4.97,1.16],[-4.94,0.71],[-4.88,0.68],[-4.83,0.63],[-4.8,0.87],[-4.76,1.2],[-4.71,1.03],[-4.66,0.71],[-4.63,0.63],[-4.58,1.1],[-4.55,0.63],[-4.5,0.71],[-4.46,0.63],[-4.41,0.71],[-4.36,0.79],[-4.31,0.71],[-4.28,0.55],[-4.23,0.55],[-4.18,0.79],[-4.13,0.63],[-4.08,0.23],[-4.04,0.47],[-3.99,0.71],[-3.95,1.03],[-3.89,1.03],[-3.84,0.87],[-3.8,0.63],[-3.76,0.39],[-3.72,0.87],[-3.69,0.71],[-3.65,0.23],[-3.59,0.23],[-3.52,0.19],[-3.47,0.39],[-3.44,0.47],[-3.42,3.77],[-3.39,7.8],[-3.35,0],[-3.29,0.23],[-3.25,0.55],[-3.22,1.35],[-3.18,3.13],[-3.14,1.76],[-3.11,1.35],[-3.08,0.95],[-3.04,1.52],[-3.01,2.56],[-2.98,2.32],[-2.94,0.79],[-2.9,0.71],[-2.85,0.71],[-2.81,1.03],[-2.76,2.0],[-2.73,2.8],[-2.7,0.3],[-2.67,4.74],[-2.64,4.4],[-2.62,0.3],[-2.58,0.2],[-2.55,0.3],[-2.53,4],[-2.5,5.3],[-2.49,26],[-2.46,26],[-2.43,0],
  [-1.89,0],[-1.87,21],[-1.85,21],[-1.84,0],[-1.69,0],[-1.67,21],[-1.62,21],[-1.61,0],
  [0.47,0],[0.49,109],[0.53,109],[0.55,0],[1.31,0],[1.33,50],[1.36,40],[1.39,57.6],[1.42,0],
  [2.5,0],[2.8,0.5],[3.2,0.5],[4.0,0.5]];
const s3FeDn = [[-5.85,0],[-5.42,0],[-5.38,-1.5],[-5.32,-5],[-5.27,-2],[-5.2,-0.8],[-5.1,-1.1],[-5.0,-1.06],[-4.97,-1.2],[-4.92,-0.9],[-4.88,-0.98],[-4.83,-0.82],[-4.78,-1.39],[-4.76,-2.03],[-4.72,-1.26],[-4.68,-1.23],[-4.63,-1.06],[-4.59,-2.35],[-4.56,-1.39],[-4.53,-0.87],[-4.49,-0.94],[-4.45,-0.71],[-4.39,-0.66],[-4.34,-0.74],[-4.29,-0.5],[-4.23,-0.5],[-4.18,-0.34],[-4.13,-0.5],[-4.08,-0.66],[-4.03,-1.06],[-3.97,-0.9],[-3.92,-1.06],[-3.87,-1.15],[-3.82,-0.9],[-3.77,-0.9],[-3.72,-0.42],[-3.67,-0.18],[-3.62,-0.26],[-3.54,-0.26],[-3.45,-0.13],[-3.39,0],[-3.35,-0.74],[-3.32,-3.16],[-3.29,-5.1],[-3.25,-4.5],[-3.23,-3.3],[-3.2,-4.8],[-3.18,-2.35],[-3.14,-2.68],[-3.12,-6.2],[-3.1,-0.66],[-3.05,-1.23],[-3.01,-1.06],[-2.98,-0.98],[-2.94,-0.58],[-2.9,-2.35],[-2.87,-2.5],[-2.83,-6.2],[-2.8,-3.8],[-2.77,-2.76],[-2.75,-3.5],[-2.71,-1.95],[-2.69,-3.0],[-2.67,-0.58],[-2.65,-5.1],[-2.63,-3.5],[-2.61,-12],[-2.58,-4.1],[-2.55,-1.06],[-2.52,0],
  [-1.88,0],[-1.86,-18],[-1.84,-18],[-1.83,0],[-1.77,0],[-1.75,-31],[-1.72,-31],[-1.71,0],
  [1.36,0],[1.38,-10],[1.41,-10],[1.43,0],[1.51,0],[1.53,-36],[1.56,-36],[1.58,0],
  [2.5,0],[2.8,-0.5],[3.2,-0.5],[4.0,-0.5]];

// ---------- drawing ----------
const neg = arr => arr.map(d => [d[0], -d[1]]);
const colors = { Total: "#c4c4c4", C: "#00ffff", Ca: "#00ff00", O: "#ff0000", Fe: "#0000ff" };

const W = 2677, H = 3084;
const svg = d3.select("#chart").append("svg")
    .attr("width", W)
    .attr("height", H)
    .style("background", "#fff");

const panels = [
    {
        id: "a", label: "(a)", lx: 23, ly: 88,
        frame: { x: 297, y: 45, w: 1029, h: 832 },
        xd: [-3, 7], yd: [-220, 220], xt: [-2, 0, 2, 4, 6], xm: 1, yt: [-200, -100, 0, 100, 200], ym: 50,
        ytitleX: 190, fermi: true, box: [-2.48, -0.085, -11.5, 10],
        total: [s1Total, neg(s1Total)],
        series: [["C", s1C, neg(s1C)], ["Ca", s1Ca, neg(s1Ca)], ["O", s1O, neg(s1O)]],
        legend: { kind: "grid", rows: [94, 164], c0: [930, 984], t0: 1023, c1: [1167, 1221], t1: 1258, rh: 41,
                  items: [["Total", 0, 0], ["C", 0, 1], ["Ca", 1, 0], ["O", 1, 1]] }
    },
    {
        id: "b", label: "(b)", lx: 1381, ly: 88,
        frame: { x: 1604, y: 45, w: 1034, h: 832 },
        xd: [-3, 0], yd: [-10, 10], xt: [-3, -2, -1, 0], xm: 0.5, yt: [-8, -4, 0, 4, 8], ym: 2,
        ytitleX: 1530, fermi: false, box: null, total: null,
        series: [["C", s1C, neg(s1C)], ["Ca", s1Ca, neg(s1Ca)], ["O", s1O, neg(s1O)]],
        legend: { kind: "col", rows: [117, 185, 252], c0: [2029, 2124], t0: 2141, items: ["C", "Ca", "O"] }
    },
    {
        id: "c", label: "(c)", lx: 24, ly: 1087,
        frame: { x: 296, y: 1043, w: 1015, h: 826 },
        xd: [-6, 4], yd: [-150, 150], xt: [-6, -4, -2, 0, 2, 4], xm: 1, yt: [-150, -100, -50, 0, 50, 100, 150], ym: 25,
        ytitleX: 190, fermi: true, box: [-4.1, -1.45, -7.5, 8],
        total: [s2TotalUp, s2TotalDn],
        series: [["C", s2CUp, s2CDn], ["Ca", s2CaUp, s2CaDn], ["O", s2OUp, s2ODn], ["Fe", s2FeUp, s2FeDn]],
        legend: { kind: "grid", rows: [1099, 1161, 1223], c0: [933, 997], t0: 1028, c1: [1168, 1232], t1: 1263, rh: 40,
                  items: [["Total", 0, 0], ["C", 0, 1], ["Ca", 1, 0], ["O", 1, 1], ["Fe", 2, 0]] }
    },
    {
        id: "d", label: "(d)", lx: 1381, ly: 1087,
        frame: { x: 1601, y: 1043, w: 1033, h: 833 },
        xd: [-4, -1], yd: [-10, 10], xt: [-4, -3, -2, -1], xm: 0.5, yt: [-8, -4, 0, 4, 8], ym: 2,
        ytitleX: 1530, fermi: false, box: null, total: null,
        series: [["C", s2CUp, s2CDn], ["Ca", s2CaUp, s2CaDn], ["O", s2OUp, s2ODn], ["Fe", s2FeUp, s2FeDn]],
        legend: { kind: "col", rows: [1091, 1158, 1227, 1297], c0: [2467, 2527], t0: 2559, items: ["C", "Ca", "O", "Fe"] }
    },
    {
        id: "e", label: "(e)", lx: 24, ly: 2121,
        frame: { x: 292, y: 2093, w: 1024, h: 829 },
        xd: [-6, 4], yd: [-150, 150], xt: [-6, -4, -2, 0, 2, 4], xm: 1, yt: [-150, -100, -50, 0, 50, 100, 150], ym: 25,
        ytitleX: 190, fermi: true, box: [-4.76, -1.27, -10.6, 10],
        total: [s3TotalUp, s3TotalDn],
        series: [["C", s3CUp, s3CDn], ["Ca", s3CaUp, s3CaDn], ["O", s3OUp, s3ODn], ["Fe", s3FeUp, s3FeDn]],
        legend: { kind: "grid", rows: [2688, 2759, 2828], c0: [933, 989], t0: 1023, c1: [1170, 1223], t1: 1253, rh: 40,
                  items: [["Total", 0, 0], ["C", 0, 1], ["Ca", 1, 0], ["O", 1, 1], ["Fe", 2, 0]] }
    },
    {
        id: "f", label: "(f)", lx: 1381, ly: 2121,
        frame: { x: 1603, y: 2107, w: 1017, h: 819 },
        xd: [-5, -1], yd: [-10, 10], xt: [-5, -4, -3, -2, -1], xm: 0.5, yt: [-8, -4, 0, 4, 8], ym: 2,
        ytitleX: 1530, fermi: false, box: null, total: null,
        series: [["C", s3CUp, s3CDn], ["Ca", s3CaUp, s3CaDn], ["O", s3OUp, s3ODn], ["Fe", s3FeUp, s3FeDn]],
        legend: { kind: "col", rows: [2150, 2218, 2282, 2352], c0: [1662, 1758], t0: 1773, items: ["C", "Ca", "O", "Fe"] }
    }
];

// minor ticks on multiples of step, skipping the major ones
function minorTicks(domain, step, majors) {
    const start = Math.ceil(domain[0] / step - 1e-9) * step;
    return d3.range(start, domain[1] + step / 2, step)
        .map(v => Math.round(v * 1000) / 1000)
        .filter(v => v >= domain[0] - 1e-9 && v <= domain[1] + 1e-9)
        .filter(v => !majors.some(m => Math.abs(m - v) < 1e-6));
}

function styleAxis(g) {
    g.select(".domain").remove();
    g.selectAll("line").attr("stroke", "#000").attr("stroke-width", 4);
    g.selectAll("text")
        .attr("fill", "#000")
        .style("font-family", '"Liberation Serif", "Times New Roman", serif')
        .style("font-weight", "bold")
        .style("font-size", "44px");
}

const fmt = d3.format("d");

panels.forEach(p => {
    const f = p.frame;
    const x = d3.scaleLinear().domain(p.xd).range([f.x, f.x + f.w]);
    const y = d3.scaleLinear().domain(p.yd).range([f.y + f.h, f.y]);
    const g = svg.append("g").attr("class", "panel-" + p.id);

    g.append("clipPath").attr("id", "clip-" + p.id)
        .append("rect").attr("x", f.x).attr("y", f.y).attr("width", f.w).attr("height", f.h);

    const plot = g.append("g").attr("clip-path", `url(#clip-${p.id})`);

    // total DOS as grey filled areas
    if (p.total) {
        const area = d3.area().x(d => x(d[0])).y0(y(0)).y1(d => y(d[1]));
        p.total.forEach(arr => {
            plot.append("path").datum(arr)
                .attr("d", area)
                .attr("fill", colors.Total)
                .attr("stroke", "none");
        });
    }

    // partial DOS lines
    const line = d3.line().x(d => x(d[0])).y(d => y(d[1]));
    p.series.forEach(([name, up, dn]) => {
        [up, dn].forEach(arr => {
            plot.append("path").datum(arr)
                .attr("d", line)
                .attr("fill", "none")
                .attr("stroke", colors[name])
                .attr("stroke-width", 6)
                .attr("stroke-linejoin", "round");
        });
    });

    // Fermi level
    if (p.fermi) {
        plot.append("line")
            .attr("x1", x(0)).attr("x2", x(0))
            .attr("y1", f.y).attr("y2", f.y + f.h)
            .attr("stroke", "#000")
            .attr("stroke-width", 4.5)
            .attr("stroke-dasharray", "21,19");
    }

    // orange zoom box
    if (p.box) {
        const [x0, x1, y0, y1] = p.box;
        plot.append("rect")
            .attr("x", x(x0)).attr("y", y(y1))
            .attr("width", x(x1) - x(x0)).attr("height", y(y0) - y(y1))
            .attr("fill", "none")
            .attr("stroke", "#ff8c00")
            .attr("stroke-width", 5)
            .attr("stroke-dasharray", "20,11");
    }

    // axes (inward ticks)
    const gx = g.append("g").attr("transform", `translate(0,${f.y + f.h})`)
        .call(d3.axisBottom(x).tickValues(p.xt).tickSize(-17).tickPadding(22).tickFormat(fmt));
    styleAxis(gx);
    const gxm = g.append("g").attr("transform", `translate(0,${f.y + f.h})`)
        .call(d3.axisBottom(x).tickValues(minorTicks(p.xd, p.xm, p.xt)).tickSize(-8).tickFormat(""));
    styleAxis(gxm);

    const gy = g.append("g").attr("transform", `translate(${f.x},0)`)
        .call(d3.axisLeft(y).tickValues(p.yt).tickSize(-17).tickPadding(18).tickFormat(fmt));
    styleAxis(gy);
    const gym = g.append("g").attr("transform", `translate(${f.x},0)`)
        .call(d3.axisLeft(y).tickValues(minorTicks(p.yd, p.ym, p.yt)).tickSize(-8).tickFormat(""));
    styleAxis(gym);

    // frame
    g.append("rect")
        .attr("x", f.x).attr("y", f.y).attr("width", f.w).attr("height", f.h)
        .attr("fill", "none").attr("stroke", "#000").attr("stroke-width", 4.5);

    // titles
    g.append("text")
        .attr("x", f.x + f.w / 2).attr("y", f.y + f.h + 116)
        .attr("text-anchor", "middle")
        .style("font-size", "62px")
        .text("Energy/ eV");

    g.append("text")
        .attr("transform", `translate(${p.ytitleX},${f.y + f.h / 2}) rotate(-90)`)
        .attr("text-anchor", "middle")
        .style("font-size", "62px")
        .text("PDOS(states/eV)");

    g.append("text")
        .attr("x", p.lx).attr("y", p.ly)
        .style("font-size", "78px")
        .text(p.label);

    // legend
    const L = p.legend;
    const lg = g.append("g").attr("class", "legend");
    const drawItem = (name, x1, x2, tx, ry, rh) => {
        if (name === "Total") {
            lg.append("rect")
                .attr("x", x1).attr("y", ry - rh / 2)
                .attr("width", x2 - x1).attr("height", rh)
                .attr("rx", 2)
                .attr("fill", colors.Total);
        } else {
            lg.append("line")
                .attr("x1", x1).attr("x2", x2).attr("y1", ry).attr("y2", ry)
                .attr("stroke", colors[name]).attr("stroke-width", 7)
                .attr("stroke-linecap", "round");
        }
        lg.append("text")
            .attr("x", tx).attr("y", ry + 19)
            .style("font-size", "53px")
            .text(name);
    };
    if (L.kind === "grid") {
        L.items.forEach(([name, r, c]) => {
            const cx = c === 0 ? L.c0 : L.c1;
            const tx = c === 0 ? L.t0 : L.t1;
            drawItem(name, cx[0], cx[1], tx, L.rows[r], L.rh);
        });
    } else {
        L.items.forEach((name, i) => drawItem(name, L.c0[0], L.c0[1], L.t0, L.rows[i], 40));
    }
});
</script>
</body>
</html>
